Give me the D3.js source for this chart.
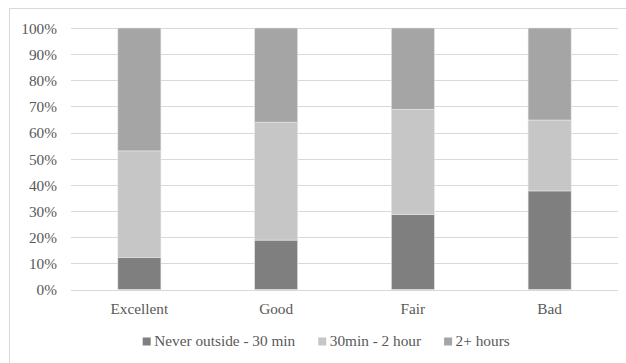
<!DOCTYPE html>
<html>
<head>
<meta charset="utf-8">
<script src="https://cdn.jsdelivr.net/npm/d3@7"></script>
<style>
  html, body { margin: 0; padding: 0; background: #fff; }
  svg { display: block; }
  text { font-family: "Liberation Serif", "Times New Roman", serif; fill: #595959; }
</style>
</head>
<body>
<svg id="chart" width="626" height="363"></svg>
<script>
// Share of respondents by health rating and time spent outside
const categories = ["Excellent", "Good", "Fair", "Bad"];
const seriesNames = ["Never outside - 30 min", "30min - 2 hour", "2+ hours"];
const neverTo30 = [0.123, 0.189, 0.287, 0.377];
const min30To2h = [0.407, 0.451, 0.402, 0.271];
const over2h    = [0.470, 0.360, 0.311, 0.352];
const yTicks = [0, 0.1, 0.2, 0.3, 0.4, 0.5, 0.6, 0.7, 0.8, 0.9, 1.0];
const colors = ["#7f7f7f", "#c6c6c6", "#a5a5a5"];

const svg = d3.select("#chart");
const plot = { left: 71, right: 618, top: 28, bottom: 289.5 };
const fontSize = "15.3px";

// chart frame
svg.append("rect")
  .attr("x", 9.5).attr("y", 8.5)
  .attr("width", 640).attr("height", 380)
  .attr("fill", "none").attr("stroke", "#d9d9d9").attr("stroke-width", 1);

const rows = categories.map((c, i) => ({
  cat: c, s0: neverTo30[i], s1: min30To2h[i], s2: over2h[i]
}));
const stacked = d3.stack().keys(["s0", "s1", "s2"])(rows);

const x = d3.scaleBand()
  .domain(categories)
  .range([plot.left, plot.right])
  .paddingInner(0.685)
  .paddingOuter(0.3425);

const y = d3.scaleLinear().domain([0, 1]).range([plot.bottom, plot.top]);

// gridlines
svg.append("g")
  .selectAll("line")
  .data(yTicks)
  .join("line")
  .attr("x1", plot.left).attr("x2", plot.right)
  .attr("y1", d => Math.round(y(d)) + 0.5).attr("y2", d => Math.round(y(d)) + 0.5)
  .attr("stroke", "#d9d9d9").attr("stroke-width", 1);

// y axis labels
const yAxis = d3.axisLeft(y).tickValues(yTicks).tickFormat(d3.format(".0%")).tickSize(0).tickPadding(14);
const gy = svg.append("g").attr("transform", `translate(${plot.left},0)`).call(yAxis);
gy.select(".domain").remove();
gy.attr("font-family", null).attr("font-size", null);
gy.selectAll("text").style("font-size", fontSize).attr("fill", "#595959").attr("dy", "0.35em");

// stacked bars
svg.append("g")
  .selectAll("g")
  .data(stacked)
  .join("g")
  .attr("fill", (d, i) => colors[i])
  .selectAll("rect")
  .data(d => d)
  .join("rect")
  .attr("x", d => x(d.data.cat))
  .attr("width", x.bandwidth())
  .attr("y", d => y(d[1]))
  .attr("height", d => y(d[0]) - y(d[1]))
  .attr("stroke", "#e6e6e6").attr("stroke-width", 0.6);

// category labels
const xAxis = d3.axisBottom(x).tickSize(0).tickPadding(0);
const gx = svg.append("g").attr("transform", `translate(0,${plot.bottom})`).call(xAxis);
gx.select(".domain").remove();
gx.attr("font-family", null).attr("font-size", null);
gx.selectAll("text").style("font-size", fontSize).attr("fill", "#595959").attr("y", 24).attr("dy", null);

// legend
const legend = svg.append("g");
const items = legend.selectAll("g").data(seriesNames).join("g");
items.append("rect")
  .attr("width", 8).attr("height", 8)
  .attr("y", 337.5)
  .attr("fill", (d, i) => colors[i]);
items.append("text")
  .attr("x", 11.5).attr("y", 346)
  .style("font-size", fontSize)
  .text(d => d);
let cursor = 0;
const gap = 23;
items.each(function() {
  const g = d3.select(this);
  g.attr("transform", `translate(${cursor},0)`);
  cursor += 11.5 + g.select("text").node().getComputedTextLength() + gap;
});
const total = cursor - gap;
legend.attr("transform", `translate(${326.2 - total / 2},0)`);
</script>
</body>
</html>
